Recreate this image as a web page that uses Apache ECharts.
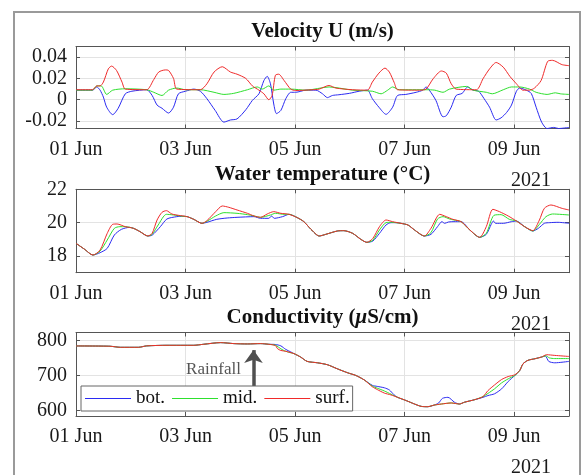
<!DOCTYPE html>
<html>
<head>
<meta charset="utf-8">
<script src="https://cdn.jsdelivr.net/npm/echarts@6/dist/echarts.min.js"></script>
<style>
  html, body { margin: 0; padding: 0; background: #fff; }
  #chart { width: 584px; height: 475px; }
</style>
</head>
<body>
<div id="chart"></div>
<script>
// x values are days since 01 Jun 2021 00:00
const dayTicks = [0, 2, 4, 6, 8]
const velTicks = [-0.02, 0, 0.02, 0.04]
const tempTicks = [18, 20, 22]
const condTicks = [600, 700, 800]
const seriesNames = ['bot.', 'mid.', 'surf.']

const velBot = [[0,0.009],[0.3,0.009],[0.38,0.012],[0.44,0.009],[0.5,0.0025],[0.56,-0.007],[0.67,-0.014],[0.77,-0.008],[0.9,0.0056],[1.02,0.008],[1.29,0.0094],[1.39,0.004],[1.48,-0.005],[1.57,-0.008],[1.69,-0.0125],[1.78,-0.007],[1.87,0.0056],[2.0,0.008],[2.15,0.01],[2.27,0.008],[2.39,0.001],[2.54,-0.01],[2.7,-0.021],[2.82,-0.019],[2.94,-0.018],[3.1,-0.0094],[3.22,-0.0006],[3.34,0.0056],[3.43,0.018],[3.49,0.022],[3.55,0.015],[3.61,-0.004],[3.66,-0.013],[3.74,-0.01],[3.83,0.001],[3.92,0.007],[4.01,0.007],[4.2,0.009],[4.38,0.009],[4.5,0.0056],[4.59,0.002],[4.68,0.004],[4.8,0.0047],[4.99,0.006],[5.17,0.008],[5.32,0.009],[5.41,0.001],[5.53,-0.007],[5.66,-0.0137],[5.78,-0.007],[5.87,0.004],[6.02,0.005],[6.21,0.007],[6.33,0.009],[6.39,0.012],[6.45,0.009],[6.57,-0.0006],[6.7,-0.016],[6.76,-0.015],[6.85,-0.007],[6.94,0.004],[7.05,0.006],[7.15,0.012],[7.25,0.009],[7.35,0.008],[7.45,0.001],[7.55,-0.007],[7.67,-0.019],[7.76,-0.017],[7.86,-0.012],[7.95,-0.005],[8.04,0.008],[8.1,0.011],[8.22,0.009],[8.31,0.006],[8.4,-0.007],[8.5,-0.021],[8.6,-0.027],[8.72,-0.026],[8.81,-0.027],[9,-0.026]]
const velMid = [[0,0.009],[0.3,0.009],[0.38,0.013],[0.46,0.013],[0.56,0.005],[0.67,0.009],[0.9,0.0103],[1.29,0.0094],[1.42,0.007],[1.57,0.004],[1.69,0.009],[1.84,0.011],[2.0,0.0094],[2.27,0.0094],[2.52,0.007],[2.7,0.005],[2.88,0.006],[3.13,0.0094],[3.31,0.012],[3.4,0.01],[3.52,0.013],[3.61,0.009],[3.74,0.01],[3.92,0.01],[4.2,0.009],[4.62,0.012],[5.05,0.009],[5.41,0.008],[5.57,0.0056],[5.69,0.009],[5.78,0.012],[5.9,0.0094],[6.39,0.0094],[6.55,0.009],[6.7,0.007],[6.82,0.01],[7.13,0.0125],[7.25,0.009],[7.49,0.007],[7.6,0.0056],[7.8,0.0094],[7.95,0.012],[8.1,0.012],[8.28,0.01],[8.4,0.007],[8.6,0.005],[8.75,0.0065],[8.85,0.0055],[9,0.005]]
const velSurf = [[0,0.0094],[0.3,0.0094],[0.38,0.013],[0.44,0.013],[0.5,0.0166],[0.59,0.029],[0.65,0.0316],[0.74,0.0275],[0.84,0.0166],[0.9,0.01],[1.29,0.0094],[1.42,0.019],[1.51,0.026],[1.63,0.028],[1.69,0.0275],[1.78,0.02],[1.84,0.01],[2.27,0.0094],[2.39,0.015],[2.52,0.026],[2.67,0.031],[2.82,0.026],[2.94,0.024],[3.1,0.02],[3.22,0.013],[3.34,0.009],[3.43,0.0056],[3.52,0.0],[3.58,0.004],[3.64,0.023],[3.7,0.024],[3.8,0.018],[3.92,0.01],[4.01,0.0087],[4.32,0.0094],[4.44,0.01],[4.62,0.0134],[4.74,0.011],[5.05,0.0094],[5.32,0.009],[5.41,0.0166],[5.53,0.025],[5.64,0.0297],[5.72,0.026],[5.81,0.016],[5.87,0.0094],[6.27,0.009],[6.39,0.01],[6.52,0.0197],[6.67,0.027],[6.76,0.025],[6.85,0.015],[6.94,0.01],[7.31,0.0094],[7.43,0.0197],[7.55,0.029],[7.67,0.035],[7.8,0.0306],[7.92,0.022],[8.04,0.015],[8.16,0.009],[8.28,0.009],[8.37,0.011],[8.49,0.018],[8.61,0.036],[8.7,0.037],[8.87,0.033],[9,0.032]]

const tempBot = [[0,18.76],[0.15,18.42],[0.31,18.06],[0.44,18.2],[0.57,18.46],[0.7,19.26],[0.83,19.6],[0.98,19.72],[1.05,19.66],[1.17,19.46],[1.31,19.2],[1.39,19.25],[1.54,19.76],[1.66,20.22],[1.84,20.36],[1.95,20.38],[2.03,20.36],[2.15,20.2],[2.3,19.96],[2.39,20.02],[2.57,20.2],[2.76,20.28],[2.94,20.32],[3.25,20.36],[3.37,20.26],[3.52,20.26],[3.57,20.4],[3.62,20.26],[3.77,20.36],[3.89,20.5],[4.04,20.3],[4.16,20.06],[4.29,19.6],[4.44,19.2],[4.56,19.3],[4.77,19.5],[4.89,19.52],[5.05,19.36],[5.2,19.0],[5.31,18.82],[5.42,18.9],[5.54,19.36],[5.66,19.86],[5.75,20.0],[5.84,20.0],[5.93,19.96],[6.06,19.86],[6.18,19.56],[6.36,19.2],[6.48,19.3],[6.6,19.76],[6.68,20.06],[6.73,19.96],[6.8,20.04],[6.9,20.06],[7.03,20.06],[7.19,19.56],[7.37,19.12],[7.49,19.3],[7.58,19.9],[7.62,20.1],[7.66,19.96],[7.8,19.96],[7.95,20.06],[8.04,20.1],[8.19,19.76],[8.34,19.5],[8.44,19.66],[8.55,19.96],[8.65,20.0],[8.8,20.02],[9,19.96]]
const tempMid = [[0,18.76],[0.15,18.42],[0.31,18.06],[0.44,18.3],[0.57,18.96],[0.7,19.66],[0.8,19.76],[0.9,19.76],[1.05,19.66],[1.17,19.46],[1.31,19.2],[1.39,19.3],[1.5,19.86],[1.65,20.5],[1.78,20.46],[1.95,20.38],[2.03,20.36],[2.15,20.2],[2.3,19.96],[2.39,20.08],[2.55,20.4],[2.7,20.6],[2.94,20.56],[3.13,20.48],[3.25,20.4],[3.37,20.32],[3.55,20.46],[3.64,20.56],[3.8,20.5],[3.89,20.5],[4.04,20.3],[4.16,20.06],[4.29,19.6],[4.44,19.2],[4.56,19.3],[4.77,19.5],[4.89,19.52],[5.05,19.36],[5.2,19.0],[5.31,18.82],[5.42,18.95],[5.54,19.56],[5.66,20.0],[5.76,20.02],[5.86,19.99],[5.93,19.96],[6.06,19.86],[6.18,19.56],[6.36,19.2],[6.48,19.4],[6.6,20.22],[6.7,20.36],[6.82,20.22],[6.9,20.16],[7.03,20.06],[7.19,19.56],[7.37,19.12],[7.49,19.36],[7.63,20.44],[7.76,20.48],[7.91,20.2],[8.04,20.1],[8.19,19.76],[8.34,19.5],[8.46,19.9],[8.58,20.36],[8.7,20.52],[9,20.46]]
const tempSurf = [[0,18.76],[0.15,18.42],[0.31,18.06],[0.44,18.36],[0.57,19.36],[0.67,19.9],[0.75,19.92],[0.9,19.76],[1.05,19.66],[1.17,19.46],[1.31,19.2],[1.39,19.36],[1.48,20.16],[1.57,20.62],[1.65,20.72],[1.75,20.52],[1.87,20.44],[2.03,20.36],[2.15,20.2],[2.3,19.96],[2.39,20.12],[2.55,20.66],[2.67,21.0],[2.79,20.92],[2.94,20.76],[3.13,20.56],[3.25,20.4],[3.37,20.32],[3.49,20.52],[3.61,20.66],[3.74,20.56],[3.89,20.5],[4.04,20.3],[4.16,20.06],[4.29,19.6],[4.44,19.2],[4.56,19.3],[4.77,19.5],[4.89,19.52],[5.05,19.36],[5.2,19.0],[5.31,18.82],[5.42,19.06],[5.54,19.76],[5.66,20.16],[5.78,20.06],[5.93,19.96],[6.06,19.86],[6.18,19.56],[6.36,19.2],[6.48,19.66],[6.64,20.5],[6.76,20.36],[6.88,20.2],[7.03,20.06],[7.19,19.56],[7.37,19.12],[7.49,19.76],[7.61,20.8],[7.73,20.66],[7.89,20.4],[8.04,20.1],[8.19,19.76],[8.34,19.52],[8.46,20.16],[8.55,20.86],[8.67,21.06],[8.87,20.86],[9,20.76]]

const condBot = [[0,783.8],[0.62,783],[0.81,780],[1.14,780],[1.29,784],[1.66,785.7],[2.15,785.7],[2.33,788.6],[2.64,793.3],[2.88,790.5],[3.13,789.5],[3.37,790.5],[3.52,788.6],[3.64,788],[3.74,784],[3.83,774],[3.92,767],[3.98,762],[4.1,752.4],[4.22,740],[4.41,736],[4.59,730.5],[4.77,719],[4.96,707.6],[5.11,700],[5.26,687.6],[5.41,672],[5.5,669],[5.63,665],[5.72,659],[5.8,646],[5.87,638],[6.03,628.6],[6.18,619],[6.3,612.4],[6.42,611.4],[6.54,616],[6.62,622],[6.69,635],[6.79,638],[6.91,624],[7.0,619],[7.09,624],[7.28,631.4],[7.43,638],[7.52,643],[7.64,648],[7.77,662],[7.89,683],[8.01,700],[8.1,714],[8.16,733],[8.25,743],[8.38,747.6],[8.5,752.4],[8.57,755],[8.63,740],[8.74,736],[9,740]]
const condMid = [[0,783.8],[0.62,783],[0.81,780],[1.14,780],[1.29,784],[1.66,785.7],[2.15,785.7],[2.33,788.6],[2.64,793.3],[2.88,790.5],[3.13,789.5],[3.37,790.5],[3.52,788.6],[3.64,786],[3.7,780],[3.78,772],[3.88,766],[3.98,762],[4.1,752.4],[4.22,740],[4.41,736],[4.59,730.5],[4.77,719],[4.96,707.6],[5.11,700],[5.26,687.6],[5.41,670],[5.5,664],[5.63,656],[5.75,647],[5.87,638],[6.03,628.6],[6.18,619],[6.3,612.4],[6.42,611.4],[6.54,616],[6.67,619],[6.85,622],[7.0,619],[7.09,624],[7.28,631.4],[7.43,640],[7.52,649],[7.64,662],[7.77,679],[7.89,690.5],[8.01,700],[8.1,714],[8.16,733],[8.25,743],[8.38,747.6],[8.5,752.4],[8.58,756],[8.64,750],[8.74,748],[9,748]]
const condSurf = [[0,783.8],[0.62,783],[0.81,780],[1.14,780],[1.29,784],[1.66,785.7],[2.15,785.7],[2.33,788.6],[2.64,793.3],[2.88,790.5],[3.13,789.5],[3.37,790.5],[3.52,788.6],[3.64,785],[3.68,776],[3.74,771],[3.83,768.6],[3.98,762],[4.1,752.4],[4.22,740],[4.41,736],[4.59,730.5],[4.77,719],[4.96,707.6],[5.11,700],[5.26,687.6],[5.41,668],[5.5,660],[5.63,650],[5.75,644.8],[5.87,638],[6.03,628.6],[6.18,619],[6.3,612.4],[6.42,611.4],[6.54,616],[6.67,619],[6.85,622],[7.0,619],[7.09,624],[7.28,631.4],[7.43,640],[7.52,657],[7.64,673],[7.77,688.6],[7.89,697],[8.01,702],[8.1,714],[8.16,733],[8.25,743],[8.38,747.6],[8.5,752.4],[8.59,759],[8.74,757],[9,754]]

// arrow position (data coords) for the rainfall annotation
const rainfallDay = 3.24
const rainfallArrow = [669, 772]

const FONT = 'Liberation Serif'
const colors = ['#2b2bf2', '#2ee02e', '#f02a2a']
const axisColor = '#555'
const gridTops = [46.5, 189.3, 332.5]
const gridHeights = [82, 83.4, 83.5]
const yRanges = [[-0.027, 0.05], [17, 22], [585, 822]]
const yTickSets = [velTicks, tempTicks, condTicks]
const titles = [
  { text: '{b|Velocity U (m/s)}' },
  { text: '{b|Water temperature (°C)}' },
  { text: '{b|Conductivity (}{i|μ}{b|S/cm)}' }
]

const chart = echarts.init(document.getElementById('chart'), null, { renderer: 'canvas' })

const grids = gridTops.map((top, i) => ({ left: 76, right: 15, top, height: gridHeights[i] }))

const xAxes = []
const yAxes = []
grids.forEach((g, i) => {
  // bottom axis with date labels
  xAxes.push({
    type: 'value', gridIndex: i, min: 0, max: 9, position: 'bottom',
    axisLine: { show: true, onZero: false, lineStyle: { color: axisColor, width: 1 } },
    axisTick: { show: true, inside: true, length: 4, customValues: dayTicks, lineStyle: { color: axisColor } },
    axisLabel: {
      customValues: dayTicks, margin: 11, color: '#1a1a1a', fontFamily: FONT, fontSize: 20,
      formatter: v => '0' + (v + 1) + ' Jun'
    },
    splitLine: { show: true, lineStyle: { color: '#e3e3e3', width: 1 } }
  })
  // mirrored top axis (box + inner ticks)
  xAxes.push({
    type: 'value', gridIndex: i, min: 0, max: 9, position: 'top',
    axisLine: { show: true, onZero: false, lineStyle: { color: axisColor, width: 1 } },
    axisTick: { show: true, inside: true, length: 4, customValues: dayTicks, lineStyle: { color: axisColor } },
    axisLabel: { show: false },
    splitLine: { show: false }
  })
  yAxes.push({
    type: 'value', gridIndex: i, min: yRanges[i][0], max: yRanges[i][1], position: 'left',
    axisLine: { show: true, onZero: false, lineStyle: { color: axisColor, width: 1 } },
    axisTick: { show: true, inside: true, length: 4, customValues: yTickSets[i], lineStyle: { color: axisColor } },
    axisLabel: { customValues: yTickSets[i], margin: 9, color: '#1a1a1a', fontFamily: FONT, fontSize: 20 },
    splitLine: { show: true, lineStyle: { color: '#e3e3e3', width: 1 } }
  })
  yAxes.push({
    type: 'value', gridIndex: i, min: yRanges[i][0], max: yRanges[i][1], position: 'right',
    axisLine: { show: true, onZero: false, lineStyle: { color: axisColor, width: 1 } },
    axisTick: { show: true, inside: true, length: 4, customValues: yTickSets[i], lineStyle: { color: axisColor } },
    axisLabel: { show: false },
    splitLine: { show: false }
  })
})

const panelData = [
  [velBot, velMid, velSurf],
  [tempBot, tempMid, tempSurf],
  [condBot, condMid, condSurf]
]

const series = []
panelData.forEach((set, p) => {
  set.forEach((data, k) => {
    const s = {
      name: seriesNames[k],
      type: 'line',
      xAxisIndex: p * 2,
      yAxisIndex: p * 2,
      data,
      showSymbol: false,
      symbol: 'none',
      smooth: 0.25,
      lineStyle: { color: colors[k], width: 1 },
      itemStyle: { color: colors[k] },
      z: 3 + k
    }
    if (p === 2 && k === 2) {
      s.markLine = {
        silent: true,
        symbol: ['none', 'arrow'],
        symbolSize: [14, 13],
        label: { show: false },
        lineStyle: { color: '#505050', width: 3.5, type: 'solid' },
        data: [[{ coord: [rainfallDay, rainfallArrow[0]] }, { coord: [rainfallDay, rainfallArrow[1]] }]]
      }
    }
    series.push(s)
  })
})

const titleRich = {
  b: { fontFamily: FONT, fontSize: 21, fontWeight: 'bold', fill: '#111' },
  i: { fontFamily: FONT, fontSize: 21, fontWeight: 'bold', fontStyle: 'italic', fill: '#111' }
}

const graphics = [
  {
    type: 'rect', silent: true, z: 0,
    shape: { x: 14, y: 12, width: 566, height: 480 },
    style: { fill: 'none', stroke: '#9a9a9a', lineWidth: 2 }
  }
]
titles.forEach((t, i) => {
  graphics.push({
    type: 'text', x: 322.5, y: gridTops[i] - 15, silent: true,
    style: { text: t.text, rich: titleRich, align: 'center', verticalAlign: 'middle' }
  })
})
// year label under the date axis
gridTops.forEach((top, i) => {
  graphics.push({
    type: 'text', x: 531, y: top + gridHeights[i] + 52, silent: true,
    style: { text: '2021', fontFamily: FONT, fontSize: 20, fill: '#1a1a1a', align: 'center', verticalAlign: 'middle' }
  })
})
graphics.push({
  type: 'text', x: 213.5, y: 370, silent: true, z: 10,
  style: { text: 'Rainfall', fontFamily: FONT, fontSize: 17, fill: '#555', align: 'center', verticalAlign: 'middle' }
})

chart.setOption({
  animation: false,
  backgroundColor: '#fff',
  grid: grids,
  xAxis: xAxes,
  yAxis: yAxes,
  series,
  legend: {
    data: seriesNames,
    left: 81, top: 386,
    orient: 'horizontal',
    icon: 'rect',
    itemWidth: 46, itemHeight: 1.2,
    itemGap: 7, itemTextGap: 3,
    padding: [3, 3, 3, 4],
    borderColor: '#666', borderWidth: 1, backgroundColor: '#fff',
    textStyle: { fontFamily: FONT, fontSize: 19, color: '#111' },
    selectedMode: false,
    z: 20
  },
  graphic: graphics
})
</script>
</body>
</html>
